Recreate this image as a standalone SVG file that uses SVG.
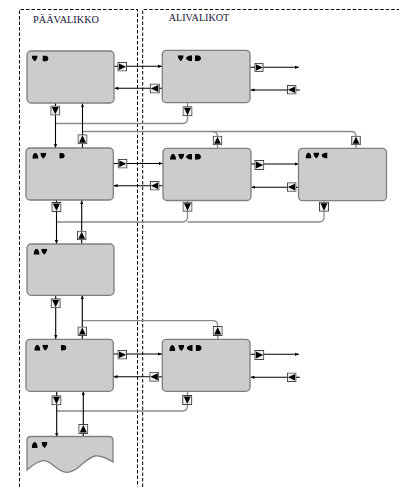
<svg xmlns="http://www.w3.org/2000/svg" xmlns:xlink="http://www.w3.org/1999/xlink" width="400" height="502" viewBox="0 0 400 502">
<style>
.frame{fill:none;stroke:#000;stroke-width:1;stroke-dasharray:3.5,2}
.node{fill:#cccccc;stroke:#7f7f7f;stroke-width:1.3}
.title{font-family:"Liberation Serif",serif;font-size:10px;fill:#14143a}
.ln{fill:none;stroke:#000;stroke-width:1.1}
.gl{fill:none;stroke:#8a8a8a;stroke-width:1.3}
.btn{fill:#eeeeee;stroke:#333;stroke-width:0.9}
.ic{fill:#000}
</style>
<defs>
<marker id="ah" viewBox="0 0 4 4" refX="4" refY="2" markerWidth="4" markerHeight="4" markerUnits="userSpaceOnUse" orient="auto">
<path d="M0,0.4 L4,2 L0,3.6Z" fill="#000"/>
</marker>
<symbol id="bR" viewBox="0 0 10 10"><rect x="0.5" y="0.5" width="9" height="9" class="btn"/><path d="M1.5,1.5 L9,5 L1.5,8.5Z" class="ic"/></symbol>
<symbol id="bL" viewBox="0 0 10 10"><rect x="0.5" y="0.5" width="9" height="9" class="btn"/><path d="M8.5,1.5 L1,5 L8.5,8.5Z" class="ic"/></symbol>
<symbol id="bD" viewBox="0 0 10 10"><rect x="0.5" y="0.5" width="9" height="9" class="btn"/><path d="M1.5,1.5 L8.5,1.5 L5,9Z" class="ic"/></symbol>
<symbol id="bU" viewBox="0 0 10 10"><rect x="0.5" y="0.5" width="9" height="9" class="btn"/><path d="M1.5,8.5 L8.5,8.5 L5,1Z" class="ic"/></symbol>
<symbol id="iU" viewBox="0 0 6 6"><path d="M0,6 C0,3.2 1.4,0 3,0 C4.6,0 6,3.2 6,6Z" class="ic"/></symbol>
<symbol id="iD" viewBox="0 0 6 6"><path d="M0,0 H6 C6,2.6 4.6,4.6 3,6 C1.4,4.6 0,2.6 0,0Z" class="ic"/></symbol>
<symbol id="iL" viewBox="0 0 6 6"><path d="M6,0 V6 C3,6 0,4.4 0,3 C0,1.6 3,0 6,0Z" class="ic"/></symbol>
<symbol id="iR" viewBox="0 0 6 6"><path d="M0,0 H2.2 C4.8,0 6,1.5 6,3 C6,4.5 4.8,6 2.2,6 H0Z" class="ic"/></symbol>
</defs>
<rect width="400" height="502" fill="#fff"/>

<g id="frames">
<path class="frame" d="M19.5,487 V9.5 H137.5 V487"/>
<path class="frame" d="M142.7,487 V9.5 H399"/>
<text class="title" x="33" y="22.5" textLength="66" lengthAdjust="spacingAndGlyphs">PÄÄVALIKKO</text>
<text class="title" x="168.7" y="20.7" textLength="60.6" lengthAdjust="spacingAndGlyphs">ALIVALIKOT</text>
</g>

<g id="connectors">
<path class="gl" d="M187.5,103 V118.5 Q187.5,123.5 182.5,123.5 H55.5"/>
<path class="gl" d="M82.5,131.5 H351 Q356,131.5 356,136.5 V148"/>
<path class="gl" d="M212.5,131.5 Q217.5,131.5 217.5,136.5 V148"/>
<path class="gl" d="M187.5,200.5 V217 Q187.5,222 182.5,222 H56.5"/>
<path class="gl" d="M324,200.5 V217 Q324,222 319,222 H187.5"/>
<path class="gl" d="M82.3,320.7 H212.7 Q217.7,320.7 217.7,325.7 V339"/>
<path class="gl" d="M187.5,391 V406 Q187.5,411 182.5,411 H56.7"/>
<path class="ln" d="M114,66.3 H162" marker-end="url(#ah)"/>
<path class="ln" d="M162,88.3 H114.5" marker-end="url(#ah)"/>
<path class="ln" d="M250,67.3 H299" marker-end="url(#ah)"/>
<path class="ln" d="M300,90 H250.5" marker-end="url(#ah)"/>
<path class="ln" d="M55.5,103 V148" marker-end="url(#ah)"/>
<path class="ln" d="M82.5,148 V103.3" marker-end="url(#ah)"/>
<path class="ln" d="M113,163.5 H163" marker-end="url(#ah)"/>
<path class="ln" d="M163,185.7 H113.5" marker-end="url(#ah)"/>
<path class="ln" d="M251,164 H298.5" marker-end="url(#ah)"/>
<path class="ln" d="M298,187.3 H251.3" marker-end="url(#ah)"/>
<path class="ln" d="M56.5,200 V244" marker-end="url(#ah)"/>
<path class="ln" d="M81.7,244 V200.3" marker-end="url(#ah)"/>
<path class="ln" d="M55.7,295 V339" marker-end="url(#ah)"/>
<path class="ln" d="M82.3,339 V295.3" marker-end="url(#ah)"/>
<path class="ln" d="M113,354 H162" marker-end="url(#ah)"/>
<path class="ln" d="M162,376.7 H113.5" marker-end="url(#ah)"/>
<path class="ln" d="M250,354.3 H299" marker-end="url(#ah)"/>
<path class="ln" d="M300,377.3 H250.5" marker-end="url(#ah)"/>
<path class="ln" d="M56.7,391 V437" marker-end="url(#ah)"/>
<path class="ln" d="M83.3,437 V391.3" marker-end="url(#ah)"/>
<use href="#bR" x="117" y="62" width="10.5" height="9.5"/>
<use href="#bL" x="149.5" y="83.5" width="10.5" height="10"/>
<use href="#bR" x="254" y="63" width="10" height="9"/>
<use href="#bL" x="286.7" y="85" width="10" height="9.5"/>
<use href="#bD" x="50.3" y="105.5" width="10" height="10"/>
<use href="#bD" x="182.5" y="106.2" width="10" height="10"/>
<use href="#bU" x="77.5" y="134.3" width="10" height="10"/>
<use href="#bU" x="212.5" y="135.7" width="10" height="9.5"/>
<use href="#bU" x="351" y="135.7" width="10" height="9.5"/>
<use href="#bR" x="117.3" y="159" width="10.5" height="9.5"/>
<use href="#bL" x="149.7" y="181" width="10" height="9.5"/>
<use href="#bR" x="254.3" y="160" width="10" height="10"/>
<use href="#bL" x="286.7" y="182.3" width="10" height="9.5"/>
<use href="#bD" x="51.3" y="202" width="10.3" height="10"/>
<use href="#bD" x="182.5" y="201.7" width="10" height="10"/>
<use href="#bD" x="319" y="201.7" width="10" height="10"/>
<use href="#bU" x="76.7" y="230.7" width="10" height="9.5"/>
<use href="#bD" x="50.5" y="298.3" width="10.3" height="10"/>
<use href="#bU" x="77.3" y="326.5" width="10" height="9.5"/>
<use href="#bU" x="212.7" y="326" width="10" height="10"/>
<use href="#bR" x="117.3" y="350" width="10" height="9.5"/>
<use href="#bL" x="149.3" y="371.7" width="10" height="10"/>
<use href="#bR" x="254.3" y="350" width="10" height="10"/>
<use href="#bL" x="286.7" y="372.5" width="10" height="9.5"/>
<use href="#bD" x="51.3" y="395.3" width="10.3" height="10"/>
<use href="#bD" x="182" y="395" width="10.5" height="10"/>
<use href="#bU" x="78.3" y="424" width="10" height="10"/>
</g>

<g id="node-main1">
<rect class="node" x="27" y="51" width="87" height="52" rx="4"/>
<use href="#iD" x="31.7" y="55.5" width="6" height="6"/>
<use href="#iR" x="42.5" y="55.5" width="6" height="6"/>
</g>
<g id="node-sub1">
<rect class="node" x="162.3" y="50.3" width="87.7" height="52.4" rx="4"/>
<use href="#iD" x="177.7" y="55.3" width="6" height="6"/>
<use href="#iL" x="186" y="55.3" width="6" height="6"/>
<use href="#iR" x="195" y="55.3" width="6" height="6"/>
</g>
<g id="node-main2">
<rect class="node" x="26" y="148" width="87.3" height="52" rx="4"/>
<use href="#iU" x="32.3" y="152.8" width="6" height="6"/>
<use href="#iD" x="40.3" y="152.8" width="6" height="6"/>
<use href="#iR" x="59.3" y="152.8" width="5.5" height="6"/>
</g>
<g id="node-sub2a">
<rect class="node" x="163" y="148.3" width="88" height="52.2" rx="4"/>
<use href="#iU" x="170" y="153.8" width="6" height="6"/>
<use href="#iD" x="178.2" y="153.8" width="6" height="6"/>
<use href="#iL" x="186" y="153.8" width="6" height="6"/>
<use href="#iR" x="195" y="153.8" width="6" height="6"/>
</g>
<g id="node-sub2b">
<rect class="node" x="298.5" y="148.3" width="88" height="52.4" rx="4"/>
<use href="#iU" x="305.5" y="152.5" width="6" height="6"/>
<use href="#iD" x="313.3" y="152.5" width="6" height="6"/>
<use href="#iL" x="321.5" y="152.5" width="6" height="6"/>
</g>
<g id="node-main3">
<rect class="node" x="27" y="244" width="87" height="51.3" rx="4"/>
<use href="#iU" x="33.5" y="248.8" width="6" height="6"/>
<use href="#iD" x="41.2" y="248.8" width="6" height="6"/>
</g>
<g id="node-main4">
<rect class="node" x="26" y="339.3" width="87.3" height="52" rx="4"/>
<use href="#iU" x="34.3" y="344.8" width="6" height="6"/>
<use href="#iD" x="42.3" y="344.8" width="6" height="6"/>
<use href="#iR" x="61" y="344.8" width="5.5" height="6"/>
</g>
<g id="node-sub4">
<rect class="node" x="162.3" y="339.3" width="87.7" height="52" rx="4"/>
<use href="#iU" x="169.3" y="345" width="6" height="6"/>
<use href="#iD" x="178.3" y="345" width="6" height="6"/>
<use href="#iL" x="186.7" y="345" width="6" height="6"/>
<use href="#iR" x="195.7" y="345" width="6" height="6"/>
</g>
<g id="node-main5">
<path class="node" d="M27,470 V440.5 Q27,436.5 31,436.5 H109 Q113,436.5 113,440.5 V462 C107,458.5 101,455 95,456 C85,458 77,473 66.5,472.3 C57,471.5 51,460.5 43.5,460.7 C37,461 31,466.5 27,470Z"/>
<use href="#iU" x="31.7" y="442" width="6" height="6"/>
<use href="#iD" x="41.5" y="442" width="6" height="6"/>
</g>
</svg>
